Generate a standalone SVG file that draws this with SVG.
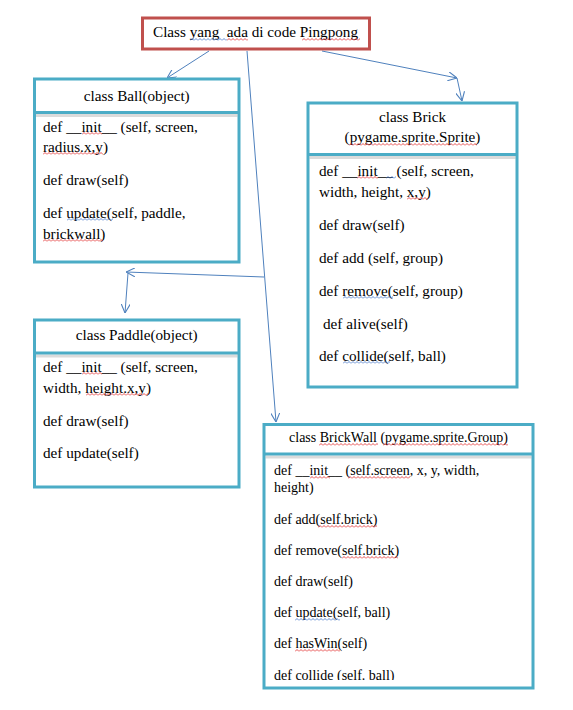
<svg xmlns="http://www.w3.org/2000/svg" width="573" height="710" viewBox="0 0 573 710">
<style>
.box{fill:#fff;stroke:#4BACC6;stroke-width:3}
.div{stroke:#4BACC6;stroke-width:3}
.sh{stroke:#999;stroke-width:3;opacity:0.35}
.t{font-family:"Liberation Serif","Times New Roman",serif;font-size:15.2px;fill:#000}
.s{font-family:"Liberation Serif","Times New Roman",serif;font-size:14px;fill:#000}
.c{text-anchor:middle}
.con{stroke:#4F81BD;stroke-width:1;fill:none;marker-end:url(#ah)}
</style>
<defs>
<marker id="ah" viewBox="0 0 10 10" refX="10" refY="5" markerWidth="9" markerHeight="9" markerUnits="userSpaceOnUse" orient="auto">
<path d="M0,0 L10,5 L0,10" fill="none" stroke="#4F81BD" stroke-width="1.2"/>
</marker>
<pattern id="sr" width="4" height="3" patternUnits="userSpaceOnUse"><path d="M0,2.5 L2,0.5 L4,2.5" fill="none" stroke="#E02020" stroke-width="0.8"/></pattern>
<pattern id="sb" width="4" height="3" patternUnits="userSpaceOnUse"><path d="M0,2.5 L2,0.5 L4,2.5" fill="none" stroke="#3A6FC4" stroke-width="0.8"/></pattern>
<clipPath id="bwclip"><rect x="264" y="424" width="270" height="256"/></clipPath>
</defs>

<g id="connectors">
<line class="con" x1="209" y1="51" x2="167" y2="78"/>
<line class="con" x1="247" y1="51" x2="276" y2="422"/>
<line class="con" x1="322" y1="51" x2="457" y2="78"/>
<line class="con" x1="457" y1="78" x2="462" y2="101"/>
<line class="con" x1="264" y1="277" x2="126" y2="272"/>
<line class="con" x1="128" y1="273" x2="125" y2="313"/>
</g>

<g id="main">
<rect x="142.5" y="18" width="227" height="31" fill="#fff" stroke="#C0504D" stroke-width="3"/>
<text class="t" x="153" y="37">Class yang &#160;ada di code Pingpong</text>
<rect x="0" y="0" width="37" height="3" fill="url(#sb)" transform="translate(190,38)"/>
<rect x="0" y="0" width="21" height="3" fill="url(#sr)" transform="translate(227,38)"/>
<rect x="0" y="0" width="58" height="3" fill="url(#sr)" transform="translate(302,38)"/>
</g>

<g id="ball">
<rect class="box" x="34.5" y="79" width="204.5" height="183"/>
<line class="sh" x1="36" y1="115.5" x2="237.5" y2="115.5"/>
<line class="div" x1="34.5" y1="112.5" x2="239" y2="112.5"/>
<text class="t c" x="136.75" y="101">class Ball(object)</text>
<text class="t" x="43" y="132">def __init__ (self, screen,</text>
<text class="t" x="43" y="152">radius.x,y)</text>
<text class="t" x="43" y="185">def draw(self)</text>
<text class="t" x="43" y="218">def update(self, paddle,</text>
<text class="t" x="43" y="239">brickwall)</text>
<rect x="0" y="0" width="20" height="3" fill="url(#sr)" transform="translate(82,132)"/>
<rect x="0" y="0" width="60" height="3" fill="url(#sr)" transform="translate(43,152)"/>
<rect x="0" y="0" width="46" height="3" fill="url(#sb)" transform="translate(67,218)"/>
<rect x="0" y="0" width="60" height="3" fill="url(#sr)" transform="translate(43,239)"/>
</g>

<g id="brick">
<rect class="box" x="308" y="103" width="209" height="284"/>
<line class="sh" x1="309.5" y1="157.5" x2="515.5" y2="157.5"/>
<line class="div" x1="308" y1="154.5" x2="517" y2="154.5"/>
<text class="t c" x="412.5" y="122">class Brick</text>
<text class="t c" x="412.5" y="142">(pygame.sprite.Sprite)</text>
<text class="t" x="319" y="176">def __init__ (self, screen,</text>
<text class="t" x="319" y="197">width, height, x,y)</text>
<text class="t" x="319" y="230">def draw(self)</text>
<text class="t" x="319" y="263">def add (self, group)</text>
<text class="t" x="319" y="296">def remove(self, group)</text>
<text class="t" x="323" y="329">def alive(self)</text>
<text class="t" x="319" y="361">def collide(self, ball)</text>
<rect x="0" y="0" width="128" height="3" fill="url(#sr)" transform="translate(349,143)"/>
<rect x="0" y="0" width="21" height="3" fill="url(#sr)" transform="translate(357,176)"/>
<rect x="0" y="0" width="10" height="3" fill="url(#sb)" transform="translate(386,176)"/>
<rect x="0" y="0" width="21" height="3" fill="url(#sr)" transform="translate(407,197)"/>
<rect x="0" y="0" width="50" height="3" fill="url(#sb)" transform="translate(343,296)"/>
<rect x="0" y="0" width="47" height="3" fill="url(#sb)" transform="translate(343,361)"/>
</g>

<g id="paddle">
<rect class="box" x="34.5" y="320" width="204.5" height="167"/>
<line class="sh" x1="36" y1="356" x2="237.5" y2="356"/>
<line class="div" x1="34.5" y1="353" x2="239" y2="353"/>
<text class="t c" x="136.75" y="340">class Paddle(object)</text>
<text class="t" x="43" y="372">def __init__ (self, screen,</text>
<text class="t" x="43" y="393">width, height.x,y)</text>
<text class="t" x="43" y="426">def draw(self)</text>
<text class="t" x="43" y="458">def update(self)</text>
<rect x="0" y="0" width="20" height="3" fill="url(#sr)" transform="translate(82,372)"/>
<rect x="0" y="0" width="62" height="3" fill="url(#sr)" transform="translate(86,393)"/>
</g>

<g id="brickwall">
<rect class="box" x="264" y="424.5" width="269" height="263.5"/>
<line class="sh" x1="265.5" y1="457" x2="531.5" y2="457"/>
<line class="div" x1="264" y1="454" x2="533" y2="454"/>
<text class="s c" x="398.5" y="442">class BrickWall (pygame.sprite.Group)</text>
<g clip-path="url(#bwclip)">
<text class="s" x="274" y="475">def __init__ (self.screen, x, y, width,</text>
<text class="s" x="274" y="492">height)</text>
<text class="s" x="274" y="524">def add(self.brick)</text>
<text class="s" x="274" y="555">def remove(self.brick)</text>
<text class="s" x="274" y="586">def draw(self)</text>
<text class="s" x="274" y="617">def update(self, ball)</text>
<text class="s" x="274" y="648">def hasWin(self)</text>
<text class="s" x="274" y="680">def collide (self. ball)</text>
</g>
<rect x="0" y="0" width="59" height="3" fill="url(#sr)" transform="translate(319,443)"/>
<rect x="0" y="0" width="125" height="3" fill="url(#sr)" transform="translate(383,443)"/>
<rect x="0" y="0" width="20" height="3" fill="url(#sr)" transform="translate(310,476)"/>
<rect x="0" y="0" width="62" height="3" fill="url(#sr)" transform="translate(348,476)"/>
<rect x="0" y="0" width="59" height="3" fill="url(#sr)" transform="translate(318,525)"/>
<rect x="0" y="0" width="56" height="3" fill="url(#sr)" transform="translate(342,556)"/>
<rect x="0" y="0" width="45" height="3" fill="url(#sb)" transform="translate(295,618)"/>
<rect x="0" y="0" width="45" height="3" fill="url(#sr)" transform="translate(295,649)"/>
</g>
</svg>
